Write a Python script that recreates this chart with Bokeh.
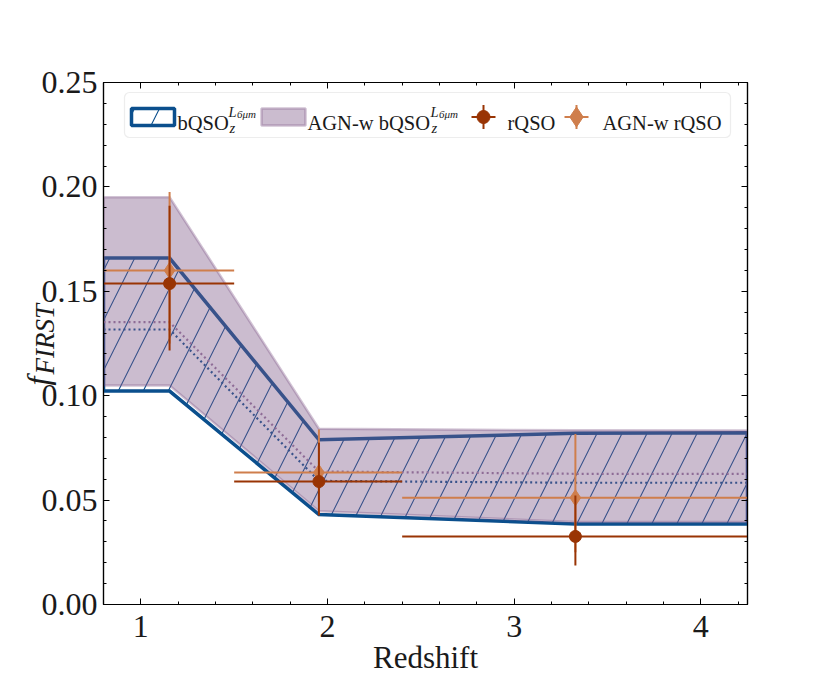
import numpy as np
from bokeh.plotting import figure
from bokeh.models import (Range1d, LinearAxis, FixedTicker, Label, BoxAnnotation,
                          CustomJSTickFormatter)
from bokeh.embed import file_html
from bokeh.resources import INLINE

# ---------------- data ----------------
z_band = [0.80, 1.154, 1.954, 3.328, 4.25]
bqso_lo = [0.1022, 0.1022, 0.0431, 0.0386, 0.0386]
bqso_hi = [0.1659, 0.1659, 0.0789, 0.0820, 0.0822]
bqso_med = [0.1317, 0.1317, 0.0592, 0.0583, 0.0583]
agnw_lo = [0.1049, 0.1049, 0.0447, 0.0395, 0.0395]
agnw_hi = [0.1951, 0.1951, 0.0842, 0.0834, 0.0833]
agnw_med = [0.1352, 0.1352, 0.0637, 0.0626, 0.0626]

z_pts = [1.154, 1.954, 3.328]
z_bin_lo = [0.80, 1.50, 2.40]
z_bin_hi = [1.50, 2.40, 4.25]
rqso = [0.1537, 0.0589, 0.0326]
rqso_lo = [0.1216, 0.0426, 0.0187]
rqso_hi = [0.1910, 0.0775, 0.0522]
agnw_rqso = [0.1600, 0.0632, 0.0511]
agnw_rqso_lo = [0.1250, 0.0490, 0.0250]
agnw_rqso_hi = [0.1975, 0.0838, 0.0817]

x_ticks = [1, 2, 3, 4]
x_tick_labels = ["1", "2", "3", "4"]
y_ticks = [0.0, 0.05, 0.10, 0.15, 0.20, 0.25]
y_tick_labels = ["0.00", "0.05", "0.10", "0.15", "0.20", "0.25"]

X0, X1 = 0.8, 4.25
Y0, Y1 = 0.0, 0.25

# ---------------- styling ----------------
BLUE = "#0b4f8d"
PURPLE = "#7d5787"
RED = "#993404"
ORANGE = "#cf7e4c"
FONT = "Liberation Serif"
TXT = "#1a1a1a"

# frame in canvas pixels
FL, FR, FT, FB = 103, 747, 82, 604


def fx(px):
    return X0 + (px - FL) / (FR - FL) * (X1 - X0)


def fy(py):
    return Y0 + (FB - py) / (FB - FT) * (Y1 - Y0)


p = figure(frame_width=FR - FL, frame_height=FB - FT,
           x_range=Range1d(X0, X1), y_range=Range1d(Y0, Y1),
           output_backend="svg", toolbar_location=None,
           min_border_left=FL, min_border_top=FT,
           min_border_right=75, min_border_bottom=55)
p.grid.visible = False
p.outline_line_color = "black"
p.outline_line_width = 1.2
p.background_fill_color = "white"
p.border_fill_color = "white"

xticker = FixedTicker(ticks=x_ticks,
                      minor_ticks=np.round(np.arange(0.8, 4.26, 0.2), 2).tolist())
yticker = FixedTicker(ticks=y_ticks,
                      minor_ticks=np.round(np.arange(0.0, 0.2501, 0.01), 2).tolist())


def style_axis(ax):
    ax.axis_line_color = "black"
    ax.axis_line_width = 1.2
    ax.major_tick_in = 6
    ax.major_tick_out = 0
    ax.minor_tick_in = 3
    ax.minor_tick_out = 0
    ax.major_tick_line_color = "black"
    ax.minor_tick_line_color = "black"
    ax.major_tick_line_width = 1
    ax.minor_tick_line_width = 1
    ax.major_label_text_font = FONT
    ax.major_label_text_font_size = "32px"
    ax.major_label_text_color = TXT


xa = p.xaxis[0]
xa.ticker = xticker
xa.major_label_overrides = {t: l for t, l in zip(x_ticks, x_tick_labels)}
style_axis(xa)
xa.major_label_standoff = 11
xa.axis_label = "Redshift"
xa.axis_label_text_font = FONT
xa.axis_label_text_font_size = "31px"
xa.axis_label_text_font_style = "normal"
xa.axis_label_text_color = TXT
xa.axis_label_standoff = 0

ya = p.yaxis[0]
ya.ticker = yticker
ya.major_label_overrides = {t: l for t, l in zip(y_ticks, y_tick_labels)}
style_axis(ya)
ya.major_label_standoff = 6

blank = CustomJSTickFormatter(code="return ''")
top_ax = LinearAxis(ticker=xticker, formatter=blank)
style_axis(top_ax)
top_ax.major_label_standoff = 0
p.add_layout(top_ax, "above")
right_ax = LinearAxis(ticker=yticker, formatter=blank)
style_axis(right_ax)
right_ax.major_label_standoff = 0
p.add_layout(right_ax, "right")

# ---------------- bands ----------------
xs_poly = z_band + z_band[::-1]
p.patch(xs_poly, bqso_hi + bqso_lo[::-1], fill_alpha=0,
        line_color=BLUE, line_width=3.5, line_join="miter",
        hatch_pattern="/", hatch_color=BLUE, hatch_scale=50, hatch_weight=1.1)
p.line(z_band, bqso_med, line_color=BLUE, line_width=2.2, line_dash="2 3")

p.patch(xs_poly, agnw_hi + agnw_lo[::-1], fill_color=PURPLE, fill_alpha=0.4,
        line_color=PURPLE, line_alpha=0.35, line_width=2.5, line_join="miter")
p.line(z_band, agnw_med, line_color="#8e6c96", line_width=2.2, line_dash="2 3")

# ---------------- error bars ----------------
p.segment(x0=z_bin_lo, y0=agnw_rqso, x1=z_bin_hi, y1=agnw_rqso,
          line_color=ORANGE, line_width=2)
p.segment(x0=z_pts, y0=agnw_rqso_lo, x1=z_pts, y1=agnw_rqso_hi,
          line_color=ORANGE, line_width=2)
p.scatter(z_pts, agnw_rqso, marker="diamond", size=16, color=ORANGE)

p.segment(x0=z_bin_lo, y0=rqso, x1=z_bin_hi, y1=rqso, line_color=RED, line_width=2)
p.segment(x0=z_pts, y0=rqso_lo, x1=z_pts, y1=rqso_hi, line_color=RED, line_width=2)
p.scatter(z_pts, rqso, marker="circle", size=12, color=RED)

# ---------------- legend (built by hand for sub/superscripts) ----------------
p.add_layout(BoxAnnotation(left=fx(124), right=fx(730), top=fy(92), bottom=fy(137),
                           fill_color="white", fill_alpha=0.85,
                           line_color="#c4c4c4", line_width=1.2, border_radius=5))
row_y = 116.5
p.quad(left=[fx(131)], right=[fx(174)], top=[fy(108)], bottom=[fy(125)], fill_alpha=0,
       line_color=BLUE, line_width=3.5, hatch_pattern="/", hatch_color=BLUE,
       hatch_scale=50, hatch_weight=1.1, level="overlay")
p.quad(left=[fx(261)], right=[fx(305)], top=[fy(108)], bottom=[fy(125)],
       fill_color=PURPLE, fill_alpha=0.4, line_color=PURPLE, line_alpha=0.35,
       line_width=2.5, level="overlay")
for cx, col, mk, sz in [(483, RED, "circle", 13), (576, ORANGE, "diamond", 20)]:
    p.segment(x0=[fx(cx - 12)], y0=[fy(row_y)], x1=[fx(cx + 12)], y1=[fy(row_y)],
              line_color=col, line_width=2, level="overlay")
    p.segment(x0=[fx(cx)], y0=[fy(row_y - 12)], x1=[fx(cx)], y1=[fy(row_y + 12)],
              line_color=col, line_width=2, level="overlay")
    p.scatter([fx(cx)], [fy(row_y)], marker=mk, size=sz, color=col, level="overlay")


def txt(px, py, s, size, style="normal", angle=0.0, place=None):
    lab = Label(x=fx(px), y=fy(py), text=s, text_font=FONT,
                text_font_size=size, text_font_style=style, text_color=TXT,
                text_align="left", text_baseline="alphabetic", angle=angle)
    if place is None:
        p.add_layout(lab)
    else:
        p.add_layout(lab, place)


txt(177, 122, "bQSO", "20.5px")
txt(228, 111, "L", "14.5px", "italic")
txt(236.5, 113, "6μm", "11px", "italic")
txt(229, 127, "z", "14.5px", "italic")

txt(307, 122, "AGN-w bQSO", "20.5px")
txt(430, 111, "L", "14.5px", "italic")
txt(438.5, 113, "6μm", "11px", "italic")
txt(431, 127, "z", "14.5px", "italic")

txt(507, 122, "rQSO", "20.5px")
txt(602, 122, "AGN-w rQSO", "20.5px")

# y-axis label f_FIRST: kept in a side panel (not clipped by the frame);
# the top border has spare room, so it does not move the frame
txt(37, 385, "f", "32px", "italic", np.pi / 2, "above")
txt(44, 374, "FIRST", "27px", "italic", np.pi / 2, "above")

open("out.html", "w").write(file_html(p, INLINE))
